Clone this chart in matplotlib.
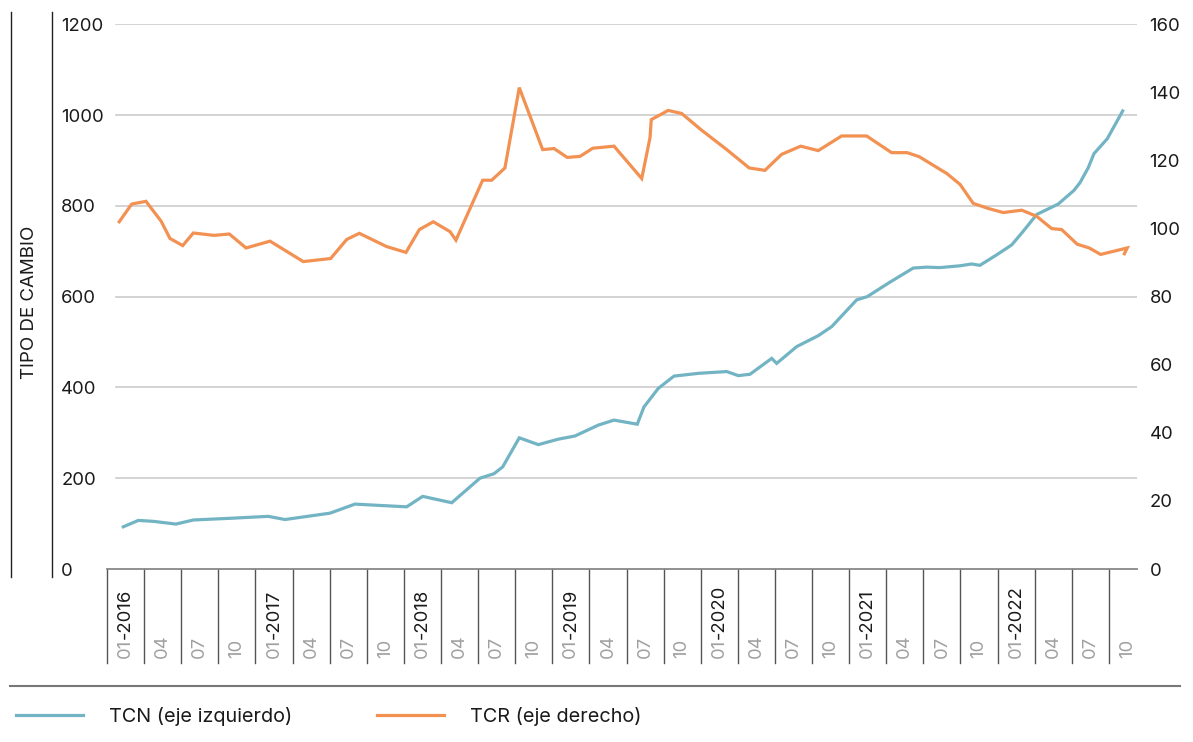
import matplotlib
matplotlib.use("Agg")
import matplotlib.pyplot as plt
from matplotlib.lines import Line2D
from matplotlib.transforms import blended_transform_factory

plt.rcParams['font.family'] = ['Inter', 'DejaVu Sans']

# meses desde 01-2016 (posicion decimal) y valores
meses_tcn = [1.32, 2.53, 3.74, 5.58, 6.98, 10.19, 13.04, 14.39, 18.03, 20.05,
             22.07, 24.23, 25.52, 27.87, 30.15, 31.29, 31.99, 33.33, 34.87, 36.48,
             37.83, 39.72, 40.99, 42.87, 43.41, 44.57, 45.84, 47.80, 50.10, 51.04,
             51.98, 53.74, 54.14, 55.76, 57.50, 58.59, 60.61, 61.46, 63.30, 65.18,
             66.27, 67.34, 68.96, 69.90, 70.57, 71.92, 73.14, 74.07, 75.16, 75.69,
             76.90, 78.17, 78.66, 79.33, 79.79, 80.87, 82.11]
tcn = [93, 107, 105, 99, 108, 112, 116, 109, 123, 143,
       140, 137, 160, 146, 200, 210, 225, 289, 274, 286,
       293, 317, 328, 319, 357, 398, 425, 431, 435, 426,
       429, 464, 453, 490, 514, 534, 593, 600, 632, 663,
       665, 664, 668, 672, 669, 692, 714, 744, 781, 788,
       804, 834, 851, 884, 915, 948, 1009]

meses_tcr = [0.99, 2.00, 3.15, 4.37, 5.09, 6.12, 6.98, 8.65, 9.89, 11.24,
             13.18, 15.87, 18.08, 19.38, 20.40, 22.61, 24.17, 25.25, 26.38, 27.73,
             28.21, 30.37, 31.10, 32.17, 33.33, 35.22, 36.14, 37.21, 38.24, 39.27,
             40.99, 43.23, 43.90, 44.00, 45.37, 46.46, 48.07, 50.10, 51.92, 53.19,
             54.54, 56.08, 57.50, 59.39, 61.41, 63.43, 64.69, 65.67, 67.88, 68.96,
             70.03, 71.25, 72.46, 73.95, 75.16, 76.37, 77.18, 78.44, 79.41, 80.33,
             82.48, 82.25]
tcr = [102.0, 107.2, 108.0, 102.2, 97.1, 95.0, 98.7, 98.0, 98.4, 94.3,
       96.3, 90.3, 91.2, 96.8, 98.6, 94.7, 93.0, 99.7, 102.0, 99.1,
       96.6, 114.2, 114.2, 117.8, 141.4, 123.2, 123.5, 120.9, 121.2, 123.6,
       124.2, 114.7, 126.7, 132.0, 134.7, 133.8, 128.9, 123.2, 117.8, 117.1,
       121.8, 124.2, 122.9, 127.2, 127.2, 122.3, 122.3, 121.1, 116.2, 113.0,
       107.4, 105.9, 104.7, 105.4, 103.6, 100.0, 99.7, 95.4, 94.3, 92.4,
       94.3, 92.6]

anios = [2016, 2017, 2018, 2019, 2020, 2021, 2022]
meses_trim = ['01', '04', '07', '10']

color_tcn = '#72b4c4'
color_tcr = '#f29152'
W, H = 1193, 742
fs = 13.3

fig = plt.figure(figsize=(W / 100, H / 100), dpi=100)
ax = fig.add_axes([107 / W, 1 - 569 / H, 1030 / W, (569 - 24.3) / H])
ax.set_xlim(0, 83.27)
ax.set_ylim(0, 1200)
for s in ['top', 'left', 'right']:
    ax.spines[s].set_visible(False)
ax.spines['bottom'].set_color('#888888')
ax.spines['bottom'].set_linewidth(1.3)
ax.set_xticks([])
ax.set_yticks(range(0, 1201, 200))
ax.tick_params(axis='y', length=0, pad=33, labelsize=fs, labelcolor='#1a1a1a')
for lbl in ax.get_yticklabels():
    lbl.set_ha('left')
for v in range(200, 1201, 200):
    ax.axhline(v, xmin=9 / 1030, xmax=1, color='#cccccc', lw=1.2, zorder=0)

ax.plot(meses_tcn, tcn, color=color_tcn, lw=2.3, zorder=3, solid_joinstyle='miter')

ax2 = ax.twinx()
ax2.set_ylim(0, 160)
for s in ax2.spines.values():
    s.set_visible(False)
ax2.set_yticks(range(0, 161, 20))
ax2.tick_params(axis='y', length=0, pad=9, labelsize=fs, labelcolor='#1a1a1a')
ax2.plot(meses_tcr, tcr, color=color_tcr, lw=2.3, zorder=3, solid_joinstyle='miter')

# cajas de trimestres bajo el eje
trans = blended_transform_factory(ax.transData, ax.transAxes)
box_bottom = -(663 - 569) / (569 - 24.3)
lab_bottom = -(658 - 569) / (569 - 24.3)
edges = list(range(0, 82, 3))
for e in edges:
    ax.plot([e, e], [box_bottom, 0], transform=trans, color='#555555', lw=1,
            clip_on=False)

fig.canvas.draw()
renderer = fig.canvas.get_renderer()
i = 0
for a in anios:
    for m in meses_trim:
        if i >= len(edges):
            break
        xc = edges[i] + 1.5
        t = ax.text(xc, lab_bottom, m, transform=trans, rotation=90, ha='center',
                    va='bottom', fontsize=fs, color='#a0a0a0', clip_on=False)
        if m == '01':
            h = t.get_window_extent(renderer).height * 72 / fig.dpi
            ax.annotate('-' + str(a), xy=(xc, lab_bottom), xycoords=trans,
                        xytext=(0, h), textcoords='offset points', rotation=90,
                        ha='center', va='bottom', fontsize=fs, color='#1a1a1a',
                        annotation_clip=False)
        i += 1

# eje izquierdo: lineas verticales y titulo
for xp in [11, 51.5]:
    fig.add_artist(Line2D([xp / W, xp / W], [1 - 11.7 / H, 1 - 576.7 / H],
                          color='#222222', lw=1))
fig.text(30 / W, 1 - 302 / H, 'TIPO DE CAMBIO', rotation=90, ha='center',
         va='center', fontsize=13.5, color='#1a1a1a')

# separador y leyenda
fig.add_artist(Line2D([10 / W, 1180 / W], [1 - 686 / H, 1 - 686 / H],
                      color='#777777', lw=1.5))
handles = [Line2D([], [], color=color_tcn, lw=2.3),
           Line2D([], [], color=color_tcr, lw=2.3)]
fig.legend(handles, ['TCN (eje izquierdo)', 'TCR (eje derecho)'], ncol=2,
           loc='center left', bbox_to_anchor=(16 / W, 1 - 716 / H), frameon=False,
           fontsize=14.3, handlelength=3.37, handletextpad=1.3, columnspacing=4.3,
           borderpad=0, borderaxespad=0, labelcolor='#1a1a1a')

fig.savefig('out.png', dpi=100)
